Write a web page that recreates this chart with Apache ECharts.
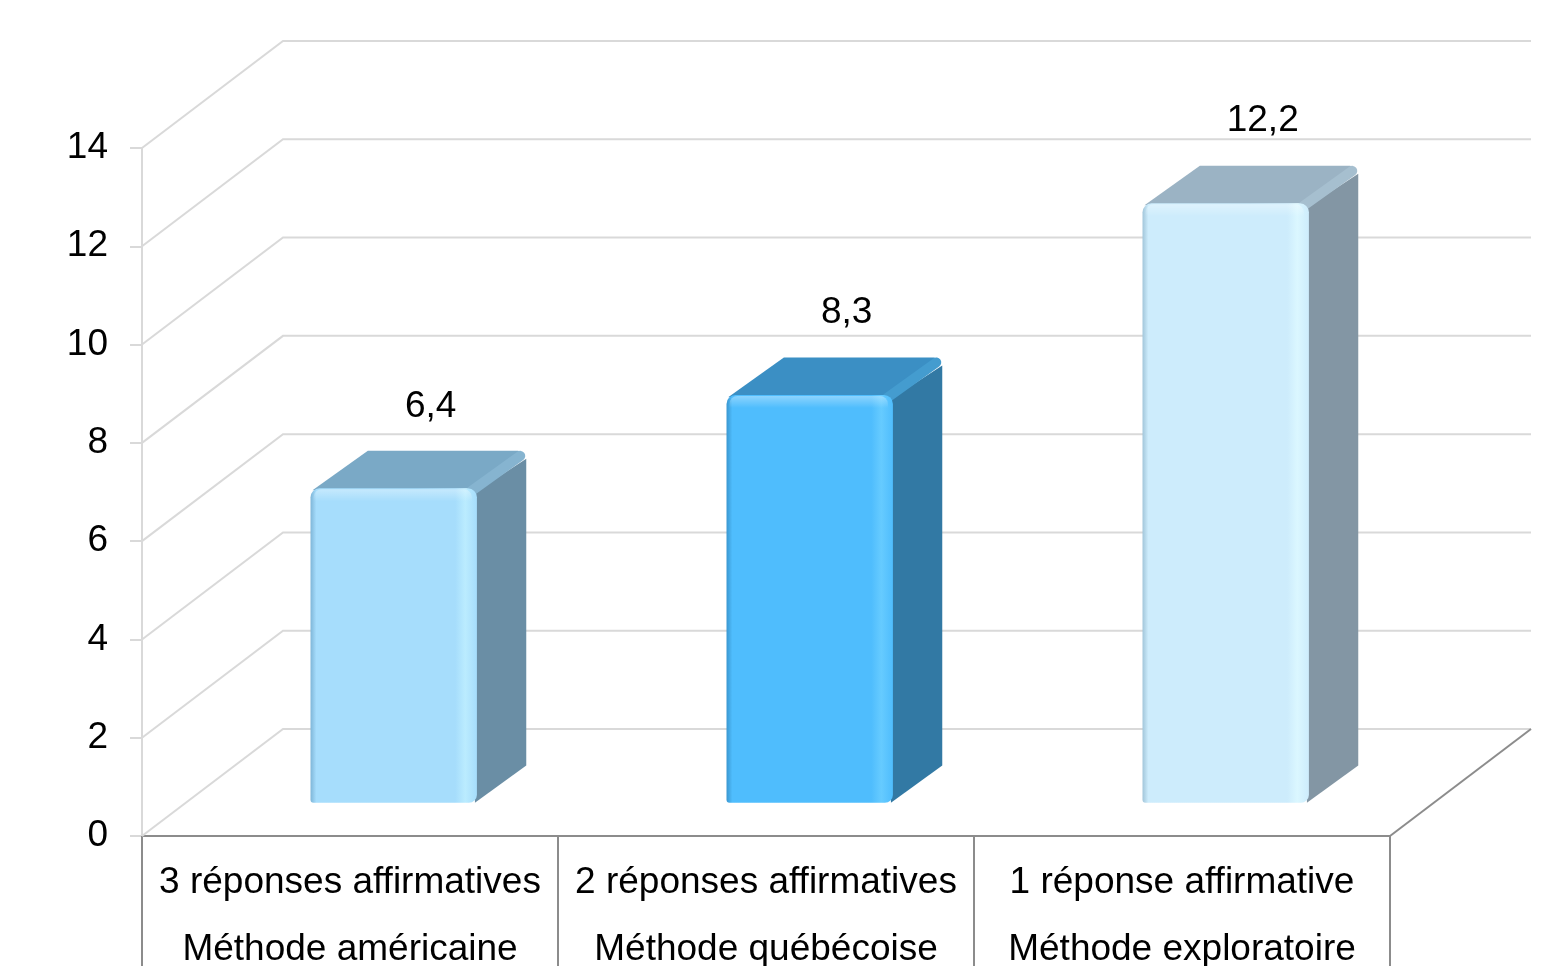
<!DOCTYPE html>
<html>
<head>
<meta charset="utf-8">
<title>Réponses affirmatives par méthode</title>
<script src="https://cdn.jsdelivr.net/npm/echarts@6/dist/echarts.min.js"></script>
<style>
  html, body { margin: 0; padding: 0; background: #ffffff; }
  #chart { width: 1565px; height: 966px; }
</style>
</head>
<body>
<div id="chart"></div>
<script>
// Categories: two label lines per column
var categoryLines1 = ['3 réponses affirmatives', '2 réponses affirmatives', '1 réponse affirmative'];
var categoryLines2 = ['Méthode américaine', 'Méthode québécoise', 'Méthode exploratoire'];
// Values shown above each bar
var values = [6.4, 8.3, 12.2];
// Value axis ticks
var yTicks = [0, 2, 4, 6, 8, 10, 12, 14];

// Per-bar shading: front face, top face, side face
var palette = [
  { front: '#a6ddfc', edge: '#7fb6d8', shine: '#bbecff', top: '#7aa9c6', topEdge: '#86b4d0', side: '#6a8ea5' },
  { front: '#4fbdfd', edge: '#3a97d0', shine: '#66cbff', top: '#3b8fc4', topEdge: '#449ccf', side: '#3279a4' },
  { front: '#cdecfc', edge: '#a2c6da', shine: '#dbf7ff', top: '#9bb3c4', topEdge: '#a6bfcf', side: '#8396a4' }
];

// Oblique projection of the depth axis (pixels for full depth)
var DX = 141, DY = -107;
// Bar occupies this slice of the depth
var D0 = 0.31, D1 = 0.66;
var BAR_RATIO = 0.4;
var FONT = '"Liberation Sans", Arial, sans-serif';

function fmt(v) { return v.toFixed(1).replace('.', ','); }

var chart = echarts.init(document.getElementById('chart'), null, { renderer: 'canvas' });

var categories = categoryLines1.map(function (a, i) { return a + '\n' + categoryLines2[i]; });

function renderWalls(params, api) {
  var v = api.value(0);
  var cs = params.coordSys;
  var y = api.coord([0, v])[1];
  var left = cs.x, right = cs.x + cs.width;
  var children = [{
    type: 'polyline',
    shape: { points: [[left, y], [left + DX, y + DY], [right + DX, y + DY]] },
    style: { stroke: '#d9d9d9', lineWidth: 2, fill: null },
    silent: true
  }];
  if (v === 0) {
    children.push({
      type: 'line',
      shape: { x1: right, y1: y, x2: right + DX, y2: y + DY },
      style: { stroke: '#8c8c8c', lineWidth: 2 },
      silent: true
    });
  }
  return { type: 'group', children: children };
}

function renderBars(params, api) {
  var i = api.value(0);
  var v = api.value(1);
  var c = palette[i % palette.length];
  var base = api.coord([i, 0]);
  var topPt = api.coord([i, v]);
  var w = api.size([1, 0])[0] * BAR_RATIO;
  var ox = DX * D0, oy = DY * D0;
  var ddx = DX * (D1 - D0), ddy = DY * (D1 - D0);
  var x0 = base[0] - w / 2 + ox, x1 = x0 + w;
  var yb = base[1] + oy, yt = topPt[1] + oy;
  var h = yb - yt;

  var frontFill = new echarts.graphic.LinearGradient(0, 0, 1, 0, [
    { offset: 0, color: c.edge },
    { offset: 0.035, color: c.front },
    { offset: 0.87, color: c.front },
    { offset: 0.93, color: c.shine },
    { offset: 1, color: c.front }
  ]);
  var topShine = new echarts.graphic.LinearGradient(0, 0, 0, 1, [
    { offset: 0, color: 'rgba(255,255,255,0.35)' },
    { offset: 1, color: 'rgba(255,255,255,0)' }
  ]);

  return {
    type: 'group',
    children: [
      { // side face
        type: 'polygon',
        shape: { points: [[x1 - 2, yt + 4], [x1 + ddx, yt + ddy + 8], [x1 + ddx, yb + ddy], [x1 - 2, yb]] },
        style: { fill: c.side }
      },
      { // top face
        type: 'polygon',
        shape: { points: [[x0 + 2, yt + 2], [x1, yt], [x1 + ddx - 2, yt + ddy + 4], [x1 + ddx - 8, yt + ddy], [x0 + ddx + 8, yt + ddy]] },
        style: { fill: c.top }
      },
      { // bevel between top and side
        type: 'line',
        shape: { x1: x1 - 6, y1: yt + 3, x2: x1 + ddx - 6, y2: yt + ddy + 5 },
        style: { stroke: c.topEdge, lineWidth: 10, lineCap: 'round' }
      },
      { // front face
        type: 'rect',
        shape: { x: x0, y: yt, width: w, height: h, r: [9, 9, 8, 3] },
        style: { fill: frontFill }
      },
      { // soft highlight along the front top edge
        type: 'rect',
        shape: { x: x0 + 3, y: yt + 1, width: w - 8, height: 12, r: [8, 8, 0, 0] },
        style: { fill: topShine }
      },
      { // value label
        type: 'text',
        style: {
          x: base[0] + ox + 37,
          y: yt - 82,
          text: fmt(v),
          fill: '#000000',
          font: '37px ' + FONT,
          align: 'center',
          verticalAlign: 'middle'
        }
      }
    ]
  };
}

var option = {
  animation: false,
  backgroundColor: '#ffffff',
  grid: { left: 142, right: 175, top: 148, bottom: 130, outerBoundsMode: 'none', containLabel: false },
  xAxis: {
    type: 'category',
    data: categories,
    boundaryGap: true,
    axisLine: { show: true, lineStyle: { color: '#8c8c8c', width: 2 } },
    axisTick: { show: true, interval: 0, length: 140, lineStyle: { color: '#8c8c8c', width: 2 } },
    axisLabel: {
      interval: 0,
      margin: 13,
      color: '#000000',
      fontFamily: FONT,
      fontSize: 37,
      lineHeight: 67,
      align: 'center'
    },
    splitLine: { show: false }
  },
  yAxis: {
    type: 'value',
    min: 0,
    max: 14,
    interval: 2,
    axisLine: { show: true, lineStyle: { color: '#d9d9d9', width: 2 } },
    axisTick: { show: true, length: 12, lineStyle: { color: '#d9d9d9', width: 2 } },
    axisLabel: { margin: 34, color: '#000000', fontFamily: FONT, fontSize: 37 },
    splitLine: { show: false }
  },
  series: [
    {
      type: 'custom',
      name: 'walls',
      silent: true,
      z: 1,
      renderItem: renderWalls,
      encode: { y: 0 },
      data: yTicks.map(function (t) { return [t]; })
    },
    {
      type: 'custom',
      name: 'valeurs',
      z: 3,
      renderItem: renderBars,
      encode: { x: 0, y: 1 },
      data: values.map(function (v, i) { return [i, v]; })
    }
  ]
};

chart.setOption(option);
</script>
</body>
</html>
